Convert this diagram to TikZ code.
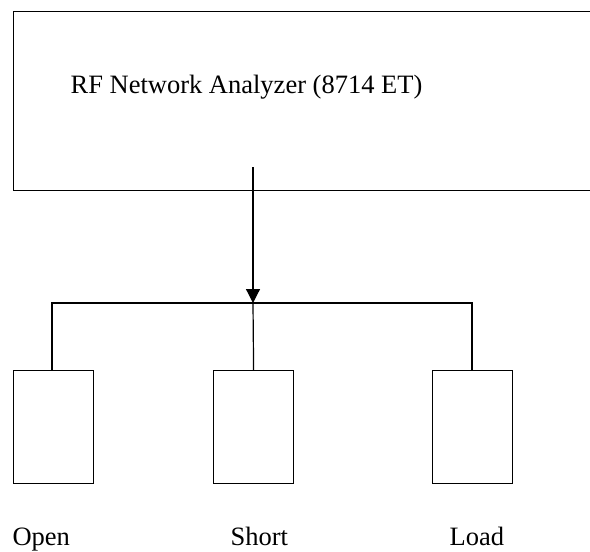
\documentclass[tikz,border=0pt]{standalone}
\usepackage{fontspec}
\setmainfont{Liberation Serif}
\usetikzlibrary{arrows.meta}
\begin{document}
\begin{tikzpicture}[x=1pt,y=-1pt,
  line width=1.2pt,
  box/.style={draw, line width=1.2pt, inner sep=0pt, minimum width=80pt, minimum height=113pt},
  lbl/.style={anchor=base west, inner sep=0pt, font=\fontsize{26.5}{32}\selectfont}]
\useasboundingbox[fill=white] (0,0) rectangle (590,552);
\node[draw, line width=1.2pt, inner sep=0pt, anchor=north west, minimum width=600pt, minimum height=179pt] (nwa) at (13,11) {};
\node[lbl] (title) at (70,93) {RF Network Analyzer (8714 ET)};
\node[box, anchor=north west] (open) at (13,370) {};
\node[box, anchor=north west] (short) at (213,370) {};
\node[box, anchor=north west] (load) at (432,370) {};
\node[lbl] (lopen) at (12,545) {Open};
\node[lbl] (lshort) at (230,545) {Short};
\node[lbl] (lload) at (449,545) {Load};
\coordinate (astart) at (253,167);
\coordinate (junc) at (253,303);
\draw[-{Triangle[length=14pt,width=14pt]}] (astart) -- (junc);
\draw (open.north -| 52,0) |- (junc) -| (load.north -| 472,0);
\draw (junc) -- (short.north);
\end{tikzpicture}
\end{document}
